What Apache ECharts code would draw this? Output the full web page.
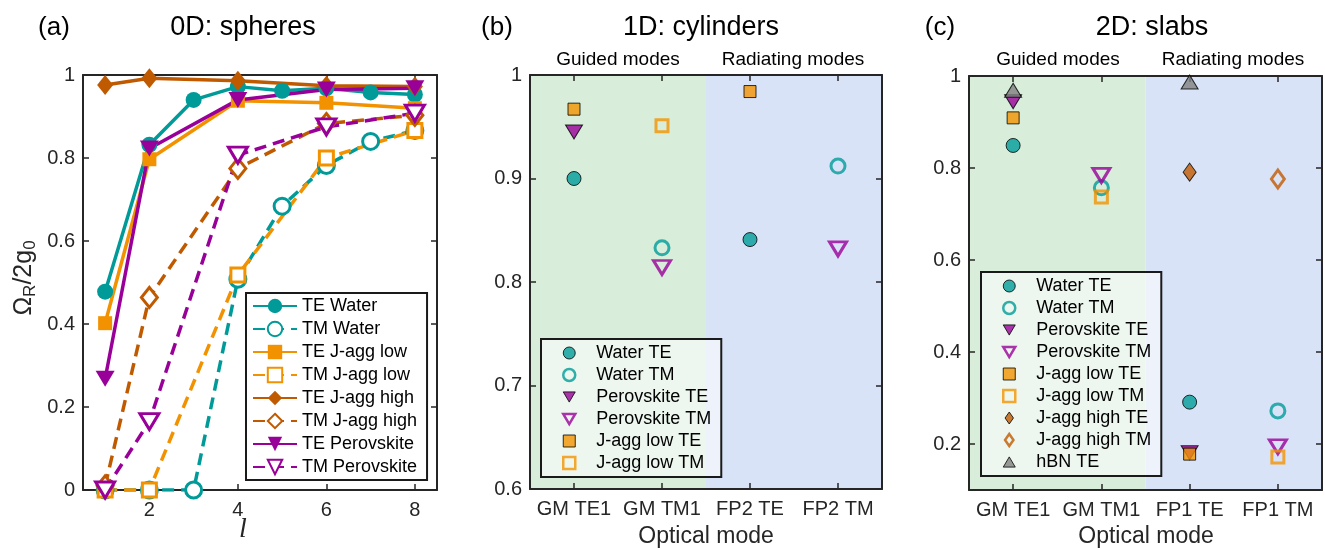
<!DOCTYPE html>
<html>
<head>
<meta charset="utf-8">
<script src="https://cdn.jsdelivr.net/npm/echarts@6/dist/echarts.min.js"></script>
<style>
  html, body { margin: 0; padding: 0; background: #fff; }
  #chart { width: 1325px; height: 548px; }
</style>
</head>
<body>
<div id="chart"></div>
<script>
  // ---- panel (a): 0D spheres ----
  const waterL = [1, 2, 3, 4, 5, 6, 7, 8];
  const otherL = [1, 2, 4, 6, 8];
  const teWater = [0.478, 0.832, 0.940, 0.972, 0.962, 0.968, 0.958, 0.953];
  const tmWater = [0, 0, 0, 0.508, 0.684, 0.782, 0.840, 0.866];
  const teJlow = [0.402, 0.797, 0.938, 0.933, 0.920];
  const tmJlow = [0, 0, 0.518, 0.800, 0.866];
  const teJhigh = [0.976, 0.992, 0.986, 0.974, 0.972];
  const tmJhigh = [0.010, 0.464, 0.775, 0.883, 0.903];
  const tePero = [0.268, 0.823, 0.940, 0.965, 0.968];
  const tmPero = [0, 0.165, 0.807, 0.875, 0.908];
  const lTicks = [2, 4, 6, 8];

  // ---- panel (b): 1D cylinders ----
  const cylModes = ['GM TE1', 'GM TM1', 'FP2 TE', 'FP2 TM'];
  const cylWaterTE = [0.900, null, 0.841, null];
  const cylWaterTM = [null, 0.833, null, 0.912];
  const cylPeroTE = [0.945, null, null, null];
  const cylPeroTM = [null, 0.814, null, 0.832];
  const cylJlowTE = [0.967, null, 0.984, null];
  const cylJlowTM = [null, 0.951, null, null];

  // ---- panel (c): 2D slabs ----
  const slabModes = ['GM TE1', 'GM TM1', 'FP1 TE', 'FP1 TM'];
  const slabWaterTE = [0.849, null, 0.291, null];
  const slabWaterTM = [null, 0.757, null, 0.272];
  const slabPeroTE = [0.944, null, 0.181, null];
  const slabPeroTM = [null, 0.784, null, 0.194];
  const slabJlowTE = [0.909, null, 0.178, null];
  const slabJlowTM = [null, 0.737, null, 0.172];
  const slabJhighTE = [null, null, 0.791, null];
  const slabJhighTM = [null, null, null, 0.776];
  const slabHbnTE = [0.969, null, 0.987, null];
  const slabTicks = [0.2, 0.4, 0.6, 0.8, 1];

  const TEAL = '#009b98';
  const ORANGE = '#f39200';
  const DORANGE = '#c05a00';
  const PURPLE = '#990099';
  const GRAY = '#808080';
  const GREEN_BG = '#d8eedb';
  const BLUE_BG = '#d9e3f7';
  const AX = '#262626';
  const FONT = '"Liberation Sans", Arial, Helvetica, sans-serif';
  const TRI_DOWN = 'path://M0,0L20,0L10,17Z';
  const TRI_UP = 'path://M10,0L20,17L0,17Z';
  const DIAMOND = 'path://M7,0L14,10L7,20L0,10Z';

  const chart = echarts.init(document.getElementById('chart'));

  function pairs(xs, ys) {
    return ys.map((y, i) => [xs[i], y]);
  }
  function catPairs(ys) {
    return ys.map((y, i) => (y == null ? null : [i, y])).filter(p => p);
  }

  const tickStyle = { show: true, inside: true, length: 6, lineStyle: { color: AX, width: 1.5 } };
  const lineStyleAx = { show: true, onZero: false, lineStyle: { color: AX, width: 2 } };
  const labelStyle = { color: AX, fontSize: 20, fontFamily: FONT };

  // line series for panel (a)
  function lineSeries(name, xs, ys, color, symbol, size, open) {
    return {
      name: name,
      type: 'line',
      xAxisIndex: 0,
      yAxisIndex: 0,
      data: pairs(xs, ys),
      symbol: symbol,
      symbolSize: size,
      showAllSymbol: true,
      z: 3,
      lineStyle: { color: color, width: 3.5, type: open ? [12, 7] : 'solid' },
      itemStyle: open
        ? { color: '#ffffff', borderColor: color, borderWidth: 3 }
        : { color: color, borderWidth: 0 },
      emphasis: { disabled: true }
    };
  }

  // scatter series for panels (b) and (c)
  function dotSeries(name, ys, xIdx, yIdx, color, symbol, size, open) {
    return {
      name: name,
      type: 'scatter',
      xAxisIndex: xIdx,
      yAxisIndex: yIdx,
      data: catPairs(ys),
      symbol: symbol,
      symbolSize: size,
      z: 3,
      itemStyle: open
        ? { color: 'rgba(255,255,255,0)', borderColor: color, borderWidth: 3 }
        : { color: color, borderColor: '#000', borderWidth: 1 },
      emphasis: { disabled: true }
    };
  }

  // legend entry for the scatter panels
  function legItem(name, color, icon, open) {
    return {
      name: name,
      icon: icon,
      itemStyle: open
        ? { color: 'rgba(255,255,255,0)', borderColor: color, borderWidth: 2.5 }
        : { color: color, borderColor: '#000', borderWidth: 1 }
    };
  }

  function bgSeries(xIdx, yIdx) {
    return {
      type: 'scatter',
      xAxisIndex: xIdx,
      yAxisIndex: yIdx,
      data: [],
      silent: true,
      z: 0,
      markArea: {
        silent: true,
        data: [
          [{ xAxis: 0, itemStyle: { color: GREEN_BG } }, { xAxis: 2 }],
          [{ xAxis: 2, itemStyle: { color: BLUE_BG } }, { xAxis: 4 }]
        ]
      }
    };
  }

  function catAxes(grid, cats, isTop) {
    return {
      type: 'category',
      gridIndex: grid,
      data: cats,
      position: isTop ? 'top' : 'bottom',
      boundaryGap: true,
      z: 1,
      axisLine: lineStyleAx,
      axisTick: Object.assign({ alignWithLabel: true, interval: 0 }, tickStyle),
      axisLabel: isTop ? { show: false } : Object.assign({ margin: 10, interval: 0 }, labelStyle),
      splitLine: { show: false }
    };
  }

  function valY(grid, min, max, interval, isRight, custom) {
    const ax = {
      type: 'value',
      gridIndex: grid,
      position: isRight ? 'right' : 'left',
      min: min,
      max: max,
      z: 1,
      axisLine: lineStyleAx,
      axisTick: Object.assign({}, tickStyle),
      axisLabel: isRight ? { show: false } : Object.assign({ margin: 8 }, labelStyle),
      splitLine: { show: false }
    };
    if (custom) {
      ax.axisTick.customValues = custom;
      if (!isRight) ax.axisLabel.customValues = custom;
    } else {
      ax.interval = interval;
    }
    return ax;
  }

  const legendCommon = {
    orient: 'vertical',
    selectedMode: false,
    borderColor: '#1a1a1a',
    borderWidth: 2,
    borderRadius: 0,
    textStyle: { color: '#000', fontSize: 18, fontFamily: FONT },
    itemGap: 4
  };

  const scatterLegendCommon = Object.assign({}, legendCommon, {
    backgroundColor: 'rgba(255,255,255,0.55)',
    padding: [5, 10, 5, 21],
    itemWidth: 12,
    itemHeight: 12,
    textStyle: { color: '#000', fontSize: 18, fontFamily: FONT, padding: [0, 0, 0, 16] }
  });

  const option = {
    animation: false,
    backgroundColor: '#fff',
    textStyle: { fontFamily: FONT },
    grid: [
      { left: 83, top: 75, width: 354, height: 415, show: false },
      { left: 530, top: 75, width: 352, height: 414, show: false },
      { left: 969, top: 76, width: 353, height: 414, show: false }
    ],
    xAxis: [
      {
        type: 'value', gridIndex: 0, min: 0.5, max: 8.5, position: 'bottom', z: 1,
        axisLine: lineStyleAx,
        axisTick: Object.assign({ customValues: lTicks }, tickStyle),
        axisLabel: Object.assign({ customValues: lTicks, margin: 10 }, labelStyle),
        splitLine: { show: false }
      },
      {
        type: 'value', gridIndex: 0, min: 0.5, max: 8.5, position: 'top', z: 1,
        axisLine: lineStyleAx,
        axisTick: Object.assign({ customValues: lTicks }, tickStyle),
        axisLabel: { show: false },
        splitLine: { show: false }
      },
      catAxes(1, cylModes, false),
      catAxes(1, cylModes, true),
      { type: 'value', gridIndex: 1, min: 0, max: 4, show: false },
      catAxes(2, slabModes, false),
      catAxes(2, slabModes, true),
      { type: 'value', gridIndex: 2, min: 0, max: 4, show: false }
    ],
    yAxis: [
      valY(0, 0, 1, 0.2, false),
      valY(0, 0, 1, 0.2, true),
      valY(1, 0.6, 1, 0.1, false),
      valY(1, 0.6, 1, 0.1, true),
      valY(2, 0.1, 1, 0.2, false, slabTicks),
      valY(2, 0.1, 1, 0.2, true, slabTicks)
    ],
    legend: [
      Object.assign({}, legendCommon, {
        left: 246, top: 293,
        backgroundColor: '#ffffff',
        padding: [4, 10, 4, 6],
        itemWidth: 44, itemHeight: 18, itemGap: 5,
        data: ['TE Water', 'TM Water', 'TE J-agg low', 'TM J-agg low',
               'TE J-agg high', 'TM J-agg high', 'TE Perovskite', 'TM Perovskite']
      }),
      Object.assign({}, scatterLegendCommon, {
        left: 541, top: 339,
        data: [
          legItem('Water TE', TEAL, 'circle', false),
          legItem('Water TM', TEAL, 'circle', true),
          legItem('Perovskite TE', PURPLE, TRI_DOWN, false),
          legItem('Perovskite TM', PURPLE, TRI_DOWN, true),
          legItem('J-agg low TE', ORANGE, 'rect', false),
          legItem('J-agg low TM', ORANGE, 'rect', true)
        ]
      }),
      Object.assign({}, scatterLegendCommon, {
        left: 981, top: 272,
        data: [
          legItem('Water TE', TEAL, 'circle', false),
          legItem('Water TM', TEAL, 'circle', true),
          legItem('Perovskite TE', PURPLE, TRI_DOWN, false),
          legItem('Perovskite TM', PURPLE, TRI_DOWN, true),
          legItem('J-agg low TE', ORANGE, 'rect', false),
          legItem('J-agg low TM', ORANGE, 'rect', true),
          legItem('J-agg high TE', DORANGE, DIAMOND, false),
          legItem('J-agg high TM', DORANGE, DIAMOND, true),
          legItem('hBN TE', GRAY, TRI_UP, false)
        ]
      })
    ],
    series: [
      lineSeries('TE Water', waterL, teWater, TEAL, 'circle', 16, false),
      lineSeries('TM Water', waterL, tmWater, TEAL, 'circle', 16, true),
      lineSeries('TE J-agg low', otherL, teJlow, ORANGE, 'rect', 14, false),
      lineSeries('TM J-agg low', otherL, tmJlow, ORANGE, 'rect', 14, true),
      lineSeries('TE J-agg high', otherL, teJhigh, DORANGE, DIAMOND, [16, 20], false),
      lineSeries('TM J-agg high', otherL, tmJhigh, DORANGE, DIAMOND, [16, 20], true),
      lineSeries('TE Perovskite', otherL, tePero, PURPLE, TRI_DOWN, [19, 16], false),
      lineSeries('TM Perovskite', otherL, tmPero, PURPLE, TRI_DOWN, [19, 16], true),

      bgSeries(4, 2),
      dotSeries('Water TE', cylWaterTE, 2, 2, TEAL, 'circle', 14, false),
      dotSeries('Water TM', cylWaterTM, 2, 2, TEAL, 'circle', 14, true),
      dotSeries('Perovskite TE', cylPeroTE, 2, 2, PURPLE, TRI_DOWN, [17, 14], false),
      dotSeries('Perovskite TM', cylPeroTM, 2, 2, PURPLE, TRI_DOWN, [17, 14], true),
      dotSeries('J-agg low TE', cylJlowTE, 2, 2, ORANGE, 'rect', 12, false),
      dotSeries('J-agg low TM', cylJlowTM, 2, 2, ORANGE, 'rect', 12, true),

      bgSeries(7, 4),
      dotSeries('Water TE', slabWaterTE, 5, 4, TEAL, 'circle', 14, false),
      dotSeries('Water TM', slabWaterTM, 5, 4, TEAL, 'circle', 14, true),
      dotSeries('Perovskite TE', slabPeroTE, 5, 4, PURPLE, TRI_DOWN, [17, 14], false),
      dotSeries('Perovskite TM', slabPeroTM, 5, 4, PURPLE, TRI_DOWN, [17, 14], true),
      dotSeries('J-agg low TE', slabJlowTE, 5, 4, ORANGE, 'rect', 12, false),
      dotSeries('J-agg low TM', slabJlowTM, 5, 4, ORANGE, 'rect', 12, true),
      dotSeries('J-agg high TE', slabJhighTE, 5, 4, DORANGE, DIAMOND, [13, 18], false),
      dotSeries('J-agg high TM', slabJhighTM, 5, 4, DORANGE, DIAMOND, [13, 18], true),
      dotSeries('hBN TE', slabHbnTE, 5, 4, GRAY, TRI_UP, [17, 14], false)
    ],
    graphic: [
      { type: 'text', x: 54, y: 28, style: { text: '(a)', font: '26px ' + FONT, fill: '#000', textAlign: 'center', textVerticalAlign: 'middle' } },
      { type: 'text', x: 243, y: 28, style: { text: '0D: spheres', font: '27px ' + FONT, fill: '#000', textAlign: 'center', textVerticalAlign: 'middle' } },
      { type: 'text', x: 497, y: 28, style: { text: '(b)', font: '26px ' + FONT, fill: '#000', textAlign: 'center', textVerticalAlign: 'middle' } },
      { type: 'text', x: 701, y: 28, style: { text: '1D: cylinders', font: '27px ' + FONT, fill: '#000', textAlign: 'center', textVerticalAlign: 'middle' } },
      { type: 'text', x: 940, y: 28, style: { text: '(c)', font: '26px ' + FONT, fill: '#000', textAlign: 'center', textVerticalAlign: 'middle' } },
      { type: 'text', x: 1152, y: 28, style: { text: '2D: slabs', font: '27px ' + FONT, fill: '#000', textAlign: 'center', textVerticalAlign: 'middle' } },
      { type: 'text', x: 618, y: 60, style: { text: 'Guided modes', font: '19px ' + FONT, fill: '#000', textAlign: 'center', textVerticalAlign: 'middle' } },
      { type: 'text', x: 793, y: 60, style: { text: 'Radiating modes', font: '19px ' + FONT, fill: '#000', textAlign: 'center', textVerticalAlign: 'middle' } },
      { type: 'text', x: 1058, y: 60, style: { text: 'Guided modes', font: '19px ' + FONT, fill: '#000', textAlign: 'center', textVerticalAlign: 'middle' } },
      { type: 'text', x: 1233, y: 60, style: { text: 'Radiating modes', font: '19px ' + FONT, fill: '#000', textAlign: 'center', textVerticalAlign: 'middle' } },
      { type: 'text', x: 243, y: 530, style: { text: 'l', font: 'italic 28px "Liberation Serif", "Times New Roman", serif', fill: '#262626', textAlign: 'center', textVerticalAlign: 'middle' } },
      { type: 'text', x: 706, y: 537, style: { text: 'Optical mode', font: '23px ' + FONT, fill: '#262626', textAlign: 'center', textVerticalAlign: 'middle' } },
      { type: 'text', x: 1146, y: 537, style: { text: 'Optical mode', font: '23px ' + FONT, fill: '#262626', textAlign: 'center', textVerticalAlign: 'middle' } },
      {
        type: 'text', x: 24, y: 278, rotation: Math.PI / 2,
        style: {
          text: '{a|Ω}{b|R}{a|/2g}{b|0}',
          fill: '#262626',
          textAlign: 'center',
          textVerticalAlign: 'middle',
          rich: {
            a: { fontSize: 25, lineHeight: 30, fontFamily: FONT, color: '#262626' },
            b: { fontSize: 17, lineHeight: 13, verticalAlign: 'bottom', fontFamily: FONT, color: '#262626' }
          }
        }
      }
    ]
  };

  chart.setOption(option);
</script>
</body>
</html>
